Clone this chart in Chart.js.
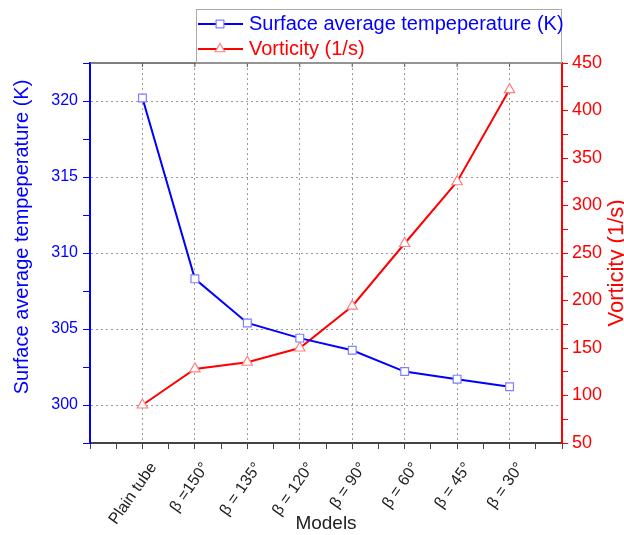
<!DOCTYPE html>
<html>
<head>
<meta charset="utf-8">
<script src="https://cdn.jsdelivr.net/npm/chart.js@4.4.0/dist/chart.umd.min.js"></script>
<style>
  html, body { margin: 0; padding: 0; background: #fff; }
  #wrap { width: 624px; height: 535px; }
</style>
</head>
<body>
<div id="wrap"><canvas id="my-chart" width="624" height="535"></canvas></div>
<script>
'use strict';

// *********** DATA ****************

let models = ['Plain tube', 'β =150°', 'β = 135°', 'β = 120°', 'β = 90°', 'β = 60°', 'β = 45°', 'β = 30°'];
let surfaceTemp = [320.2, 308.3, 305.4, 304.4, 303.6, 302.2, 301.7, 301.2];
let vorticity = [90, 128, 135, 150, 194, 260, 325, 422];
let tempTicks = [300, 305, 310, 315, 320];
let vortTicks = [50, 100, 150, 200, 250, 300, 350, 400, 450];

let tempLabel = 'Surface average tempeperature (K)';
let vortLabel = 'Vorticity (1/s)';

// *********** STYLE HELPERS ****************

let fontFam = '"Liberation Sans", Arial, sans-serif';
let gridGray = '#9a9a9a';
let blue = '#0000ff';
let red = '#ff0000';

function isModelTick(v){
  return Number.isInteger(v) && v >= 0 && v < models.length;
}

// rotated axis title, reading bottom to top
function drawSideTitle(ctx, text, x, y, size, color){
  ctx.save();
  ctx.translate(x, y);
  ctx.rotate(-Math.PI / 2);
  ctx.font = size + 'px ' + fontFam;
  ctx.fillStyle = color;
  ctx.textAlign = 'center';
  ctx.textBaseline = 'middle';
  ctx.fillText(text, 0, 0);
  ctx.restore();
}

// ********** PLUGIN: legend box, axis titles, top frame ********
let extrasPlugin = {
  id: 'extras',
  afterDraw(chart){
    let ctx = chart.ctx;
    let area = chart.chartArea;

    // top frame line
    ctx.save();
    ctx.strokeStyle = '#555';
    ctx.lineWidth = 1.5;
    ctx.beginPath();
    ctx.moveTo(area.left, area.top);
    ctx.lineTo(area.right, area.top);
    ctx.stroke();
    // small inward ticks on the top frame
    let xs = chart.scales.x;
    ctx.lineWidth = 1;
    for(let i = 0; i < models.length; i++){
      let px = xs.getPixelForValue(i);
      ctx.beginPath();
      ctx.moveTo(px, area.top);
      ctx.lineTo(px, area.top + 4);
      ctx.stroke();
    }
    ctx.restore();

    // legend box
    ctx.save();
    ctx.strokeStyle = '#aaa';
    ctx.lineWidth = 1;
    ctx.strokeRect(196.5, 9.5, 365, area.top - 9.5);
    let entries = [
      {text: tempLabel, line: blue, mark: '#7f7fff', style: 'rect', y: 24},
      {text: vortLabel, line: red, mark: '#ff8080', style: 'triangle', y: 49}
    ];
    ctx.font = '20px ' + fontFam;
    ctx.textBaseline = 'middle';
    ctx.textAlign = 'left';
    for(let e of entries){
      ctx.strokeStyle = e.line;
      ctx.lineWidth = 2;
      ctx.beginPath();
      ctx.moveTo(198, e.y);
      ctx.lineTo(243, e.y);
      ctx.stroke();
      ctx.fillStyle = '#fff';
      ctx.strokeStyle = e.mark;
      ctx.lineWidth = 1.2;
      Chart.helpers.drawPoint(ctx, {pointStyle: e.style, radius: 5.5, borderWidth: 1.2, rotation: 0}, 220, e.y);
      ctx.fillStyle = e.line;
      ctx.fillText(e.text, 249, e.y);
    }
    ctx.restore();

    drawSideTitle(ctx, tempLabel, 22, 237, 20, blue);
    drawSideTitle(ctx, vortLabel, 617, 263, 22, red);
  }
};

// *********** RENDER CHART ****************
let ctx = document.getElementById('my-chart').getContext('2d');

let myChartObj = {
  type: 'line',
  data: {
    datasets: [{
      label: tempLabel,
      data: surfaceTemp.map((v, i) => ({x: i, y: v})),
      yAxisID: 'y',
      borderColor: blue,
      borderWidth: 2,
      pointStyle: 'rect',
      pointRadius: 5.5,
      pointBorderColor: '#7f7fff',
      pointBackgroundColor: '#fff',
      pointBorderWidth: 1.2,
      tension: 0
    },
    {
      label: vortLabel,
      data: vorticity.map((v, i) => ({x: i, y: v})),
      yAxisID: 'y1',
      borderColor: red,
      borderWidth: 2,
      pointStyle: 'triangle',
      pointRadius: 6,
      pointBorderColor: '#ff8080',
      pointBackgroundColor: '#fff',
      pointBorderWidth: 1.2,
      tension: 0
    }]
  },
  options: {
    responsive: false,
    animation: false,
    devicePixelRatio: 1,
    layout: {padding: {top: 63, left: 0, right: 0, bottom: 0}},
    plugins: {
      legend: {display: false},
      tooltip: {enabled: false}
    },
    scales: {
      x: {
        type: 'linear',
        position: 'bottom',
        min: -1,
        max: 8,
        afterFit(scale){ scale.height = 92; },
        ticks: {
          stepSize: 0.5,
          autoSkip: false,
          minRotation: 55,
          maxRotation: 55,
          padding: 10,
          labelOffset: 11,
          color: '#222',
          font: {size: 16, family: fontFam},
          callback: (v) => isModelTick(v) ? models[v] : ''
        },
        grid: {
          color: (c) => (c.tick && isModelTick(c.tick.value)) ? gridGray : 'rgba(0,0,0,0)',
          tickColor: '#444',
          tickLength: 6,
          lineWidth: 1
        },
        border: {color: '#444', width: 2, dash: [2, 3]},
        title: {
          display: true,
          text: 'Models',
          color: '#222',
          font: {size: 19, family: fontFam},
          padding: {top: 0, bottom: 0}
        }
      },
      y: {
        type: 'linear',
        position: 'left',
        min: 297.5,
        max: 322.5,
        afterFit(scale){ scale.width = 90; },
        ticks: {
          stepSize: 2.5,
          autoSkip: false,
          padding: 5,
          color: blue,
          font: {size: 16, family: fontFam},
          callback: (v) => tempTicks.includes(v) ? String(v) : ''
        },
        grid: {
          color: (c) => (c.tick && tempTicks.includes(c.tick.value)) ? gridGray : 'rgba(0,0,0,0)',
          tickColor: blue,
          tickLength: 7,
          lineWidth: 1
        },
        border: {color: blue, width: 2, dash: [2, 3]}
      },
      y1: {
        type: 'linear',
        position: 'right',
        min: 50,
        max: 450,
        afterFit(scale){ scale.width = 62; },
        ticks: {
          stepSize: 25,
          autoSkip: false,
          padding: 4,
          color: red,
          font: {size: 18, family: fontFam},
          callback: (v) => vortTicks.includes(v) ? String(v) : ''
        },
        grid: {
          drawOnChartArea: false,
          color: red,
          tickColor: red,
          tickLength: 6
        },
        border: {color: red, width: 2}
      }
    }
  },
  plugins: [extrasPlugin]
};

new Chart(ctx, myChartObj);
</script>
</body>
</html>
